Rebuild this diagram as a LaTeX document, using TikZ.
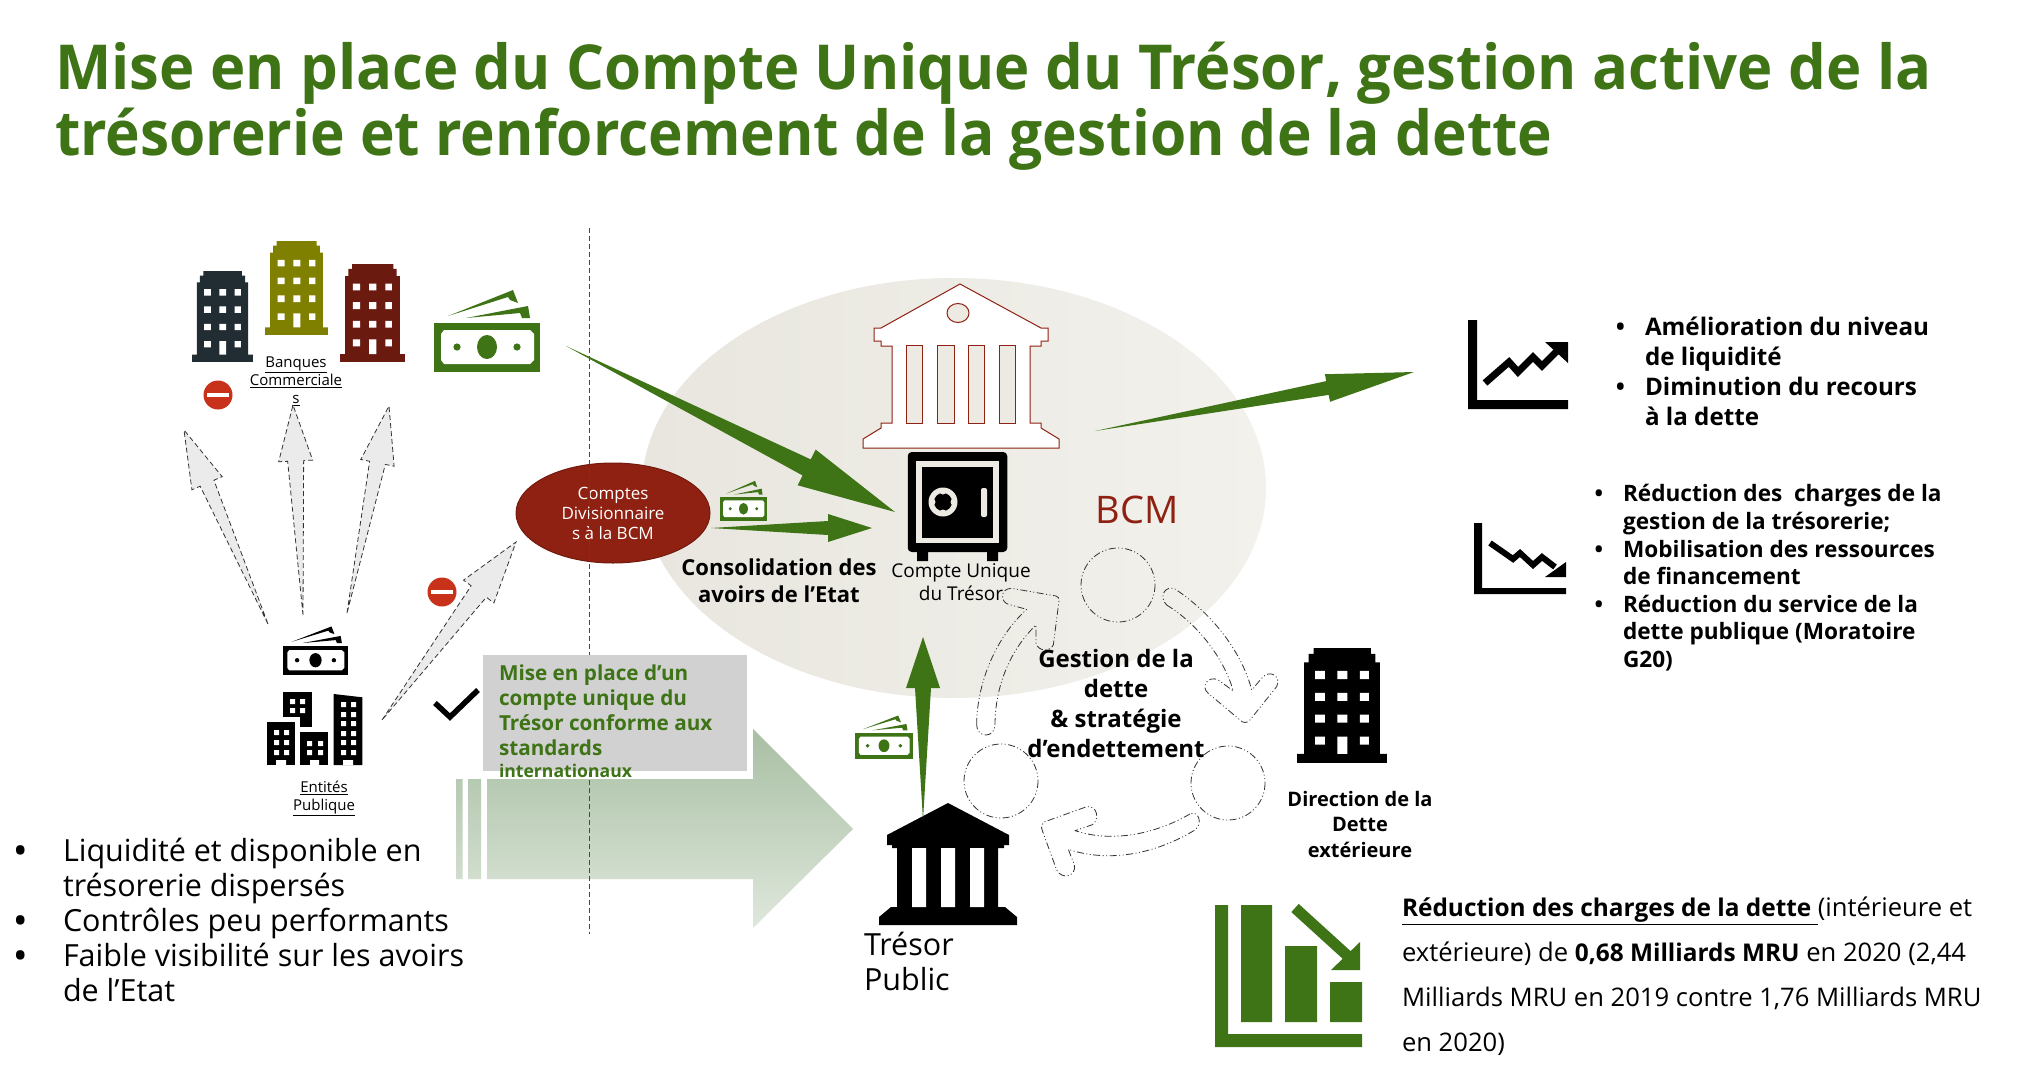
\documentclass[tikz,border=0pt]{standalone}
\usepackage{fontspec}
\setmainfont{Open Sans}
\newfontfamily\ttl[FakeStretch=0.945]{Open Sans}
\newfontfamily\ttlw[FakeStretch=0.964]{Open Sans}
\usetikzlibrary{calc,shapes.geometric}
\definecolor{grn}{HTML}{3E7316}
\definecolor{brick}{HTML}{8F2112}
\definecolor{bcmfill}{HTML}{ECEAE3}
\definecolor{bcml}{HTML}{E8E6DE}
\definecolor{bcmr}{HTML}{F2F1EC}
\definecolor{bigt}{HTML}{A8BFA3}
\definecolor{bigb}{HTML}{DFE7DC}
\definecolor{nored}{HTML}{C8321A}
\definecolor{darkb}{HTML}{222C33}
\definecolor{oliveb}{HTML}{808000}
\definecolor{redb}{HTML}{6B1A10}
\newcommand\fs[2]{\fontsize{#1}{#2}\selectfont}
\tikzset{
  grayarrow/.style={fill=black!8,draw=black!80,line width=.8pt,dash pattern=on 5pt off 3pt},
  greenarrow/.style={fill=grn,draw=none},
  cyc/.style={draw=black!80,line width=.8pt,dash pattern=on 7pt off 2.5pt on 1pt off 2.5pt on 1pt off 2.5pt,line join=round},
  lbl/.style={inner sep=0pt,outer sep=0pt,text=black},
}
\newcommand\bul[1]{\llap{\textbf{•}\hspace{#1pt}}}
% name, tail, head, headlen, halfhead, halfneck, style
\newcommand\taper[7]{%
  \coordinate (#1n) at ($(#3)!#4pt!(#2)$);
  \path[#7] (#2) -- ($(#1n)!#6pt!90:(#3)$) -- ($(#1n)!#5pt!90:(#3)$) -- (#3)
     -- ($(#1n)!#5pt!-90:(#3)$) -- ($(#1n)!#6pt!-90:(#3)$) -- cycle;}
\newcommand\bldg[5]{%
 \begin{scope}[shift={(#1,#2)},x=#3*0.01pt,y=-#4*0.01pt]
  \fill[#5] (0,100)--(0,92)--(8,92)--(8,12.5)--(13,12.5)--(13,5)--(18.6,5)--(18.6,0)--(82,0)--(82,5)--(87,5)--(87,12.5)--(92,12.5)--(92,92)--(100,92)--(100,100)--cycle;
  \fill[white] (20,20) rectangle (31,27) (45,20) rectangle (56,27) (70,20) rectangle (80,27)
   (20,39) rectangle (31,46) (45,39) rectangle (56,46) (70,39) rectangle (80,46)
   (20,58) rectangle (31,65) (45,58) rectangle (56,65) (70,58) rectangle (80,65)
   (20,77) rectangle (31,84) (45,77) rectangle (56,92) (70,77) rectangle (80,84);
 \end{scope}}
\newcommand\money[5]{%
 \begin{scope}[shift={(#1,#2)},x=#3/106*1pt,y=-#4/49*1pt]
  \fill[#5] (0,0) rectangle (106,49);
  \fill[white] (10,7)--(96,7)--(100,11)--(100,37)--(96,41)--(10,41)--(7,37)--(7,11)--cycle;
  \fill[#5] (53,24) ellipse [x radius=10,y radius=12];
  \fill[#5] (23,24) circle [x radius=3.6,y radius=3.6] (83,24) circle [x radius=3.6,y radius=3.6];
  \fill[#5] (14,-7)--(79,-33)--(84,-20)--(76,-23)--(74,-26)--cycle;
  \fill[#5] (32,-5)--(94,-17)--(96,-5)--(88,-5)--(86,-10)--cycle;
 \end{scope}}
\newcommand\noentry[1]{%
  \fill[nored] (#1) circle (14.5);
  \fill[white] ($(#1)+(-11,-1.8)$) rectangle ($(#1)+(11,1.8)$);}
\begin{document}
\begin{tikzpicture}[x=1pt,y=-1pt]
\useasboundingbox[fill=white] (0,0) rectangle (2028,1076);

% ---------- title
\node[lbl,anchor=base west,text=grn,font=\ttlw\fs{62}{66}\bfseries] (titleA) at (55,89) {Mise en place du Compte Unique du Trésor, gestion active de la};
\node[lbl,anchor=base west,text=grn,font=\ttl\fs{62}{66}\bfseries] (titleB) at (55,155) {trésorerie et renforcement de la gestion de la dette};

% ---------- BCM ellipse
\shade[left color=bcml,right color=bcmr] (954,488) ellipse [x radius=312,y radius=210];
\node[lbl,text=brick,font=\fs{38}{40}] (bcm) at (1137,510) {BCM};

% ---------- big arrow (left to right)
\shade[top color=bigt,bottom color=bigb]
  (456,779) rectangle (462.5,879) (468,779) rectangle (481,879)
  (487,779) -- (753,779) -- (753,729) -- (853,829) -- (753,928) -- (753,879) -- (487,879) -- cycle;

% ---------- vertical dashed divider
\coordinate (divtop) at (589,228);
\coordinate (divbot) at (589,934);

% ---------- banks
\bldg{192}{271}{61}{91}{darkb}
\bldg{265}{241}{63}{94}{oliveb}
\bldg{340}{264}{65}{98}{redb}
\money{434}{323}{106}{49}{grn}
\node[lbl,align=center,font=\fs{15}{18}] (banques) at (296,381) {\underline{Banques}\\\underline{Commerciale}\\\underline{s}};
\noentry{218,395}
\noentry{442,592}

% ---------- entites
\money{283}{646}{65}{29}{black}
 \fill (283.3,691.7) rectangle (311.7,727.3);
 \fill[white] (283.3,717.3) rectangle (300,727.3);
 \fill (266.7,722.3) rectangle (295,765);
 \fill (300,732.3) rectangle (328.3,765);
 \fill (333.7,694) -- (362.3,697.3) -- (362.3,765) -- (333.7,765) -- cycle;
 \fill[white]
  (274,730) rectangle (279,735) (284,730) rectangle (289,735)
  (274,740) rectangle (279,745) (284,740) rectangle (289,745)
  (274,750) rectangle (279,755) (284,750) rectangle (289,755)
  (276,760) rectangle (286,765)
  (307,741) rectangle (312,746) (318,741) rectangle (323,746)
  (307,750) rectangle (312,755) (318,750) rectangle (323,755)
  (310,760) rectangle (319,765)
  (290,699) rectangle (295,704) (300,699) rectangle (305,704)
  (290,708) rectangle (295,713) (300,708) rectangle (305,713)
  (341,702) rectangle (346,707) (351,702) rectangle (356,707)
  (341,712) rectangle (346,717) (351,712) rectangle (356,717)
  (341,721) rectangle (346,726) (351,721) rectangle (356,726)
  (341,731) rectangle (346,736) (351,731) rectangle (356,736)
  (341,740) rectangle (346,745) (351,740) rectangle (356,745)
  (341,750) rectangle (346,755) (351,750) rectangle (356,755)
  (343,760) rectangle (353,765);
\node[lbl,align=center,font=\fs{15}{18}] (entites) at (324,798.5) {\underline{Entités}\\\underline{Publique}};

% ---------- gray dashed arrows
\coordinate (ga1t) at (268,624); \coordinate (ga1h) at (184,430);
\coordinate (ga2t) at (303,615); \coordinate (ga2h) at (293,405);
\coordinate (ga3t) at (347,613); \coordinate (ga3h) at (389,406);
\coordinate (ga4t) at (382,720); \coordinate (ga4h) at (516,542);
\taper{ga1}{ga1t}{ga1h}{58}{16.5}{7.5}{grayarrow}
\taper{ga2}{ga2t}{ga2h}{56}{17}{8}{grayarrow}
\taper{ga3}{ga3t}{ga3h}{58}{17}{8}{grayarrow}
\taper{ga4}{ga4t}{ga4h}{62}{19}{9.5}{grayarrow}

% ---------- oval
\node[ellipse,fill=brick,draw=brick!80!black,line width=1pt,minimum width=194pt,minimum height=100pt,inner sep=0pt,text=white,align=center,font=\fs{17}{20}] (oval) at (613,513) {Comptes\\Divisionnaire\\s à la BCM};
\draw[grn!80!black,line width=.7pt,dash pattern=on 5pt off 3pt] (divtop) -- (divbot);

% ---------- check and grey box
\coordinate (ck1) at (435,703); \coordinate (ck2) at (450,717); \coordinate (ck3) at (478,690);
\draw[line width=5.5pt,miter limit=3] (ck1) -- (ck2) -- (ck3);
\fill[black!18] (483,655) rectangle (747,771);
\node[lbl,anchor=base west,text=grn,font=\fs{20.7}{25}\bfseries] (miseA) at (499,680) {Mise en place d’un};
\node[lbl,anchor=base west,text=grn,font=\fs{20.7}{25}\bfseries] (miseB) at (499,705) {compte unique du};
\node[lbl,anchor=base west,text=grn,font=\fs{20.7}{25}\bfseries] (miseC) at (499,730) {Trésor conforme aux};
\node[lbl,anchor=base west,text=grn,font=\fs{20.7}{25}\bfseries] (miseD) at (499,755) {standards};
\node[lbl,anchor=base west,text=grn,font=\fs{17.6}{20}\bfseries] (miseE) at (499,777) {internationaux};

% ---------- temple BCM
\draw[brick,line width=1pt,fill=white] (960,284)--(1041,328)--(1048,328)--(1048,341)--(1041,341)--(1041,346)--(1030,346)--(1030,423)--(1041,423)--(1041,428)--(1059,439)--(1059,448)--(863,448)--(863,439)--(881,428)--(881,423)--(892,423)--(892,346)--(881,346)--(881,341)--(874,341)--(874,328)--(881,328)--cycle;
\draw[brick,line width=1pt,fill=bcmfill] (906,345) rectangle (922,423) (937,345) rectangle (954,423) (968,345) rectangle (984,423) (999,345) rectangle (1015,423);
\draw[brick,line width=1pt,fill=bcmfill] (958,313) ellipse [x radius=11,y radius=9.5];

% ---------- safe
\fill (917,552) rectangle (928,561) (987,552) rectangle (998,561);
\node[fill=black,rounded corners=4pt,minimum width=99.5pt,minimum height=100pt,inner sep=0pt] (safe) at (957.5,502) {};
\fill[bcmfill] (916,461) rectangle (999,543);
\fill[black] (922,467) rectangle (993,538);
\fill[bcmfill] (943,502) circle (14.5);
\fill[black] (943,502) circle (9);
\fill[bcmfill] (943,491.5) circle (3) (943,512.5) circle (3) (932.5,502) circle (3) (953.5,502) circle (3);
\fill[bcmfill,rounded corners=2pt] (981,488) rectangle (987,517);
\node[lbl,align=center,font=\fs{22}{27}\bfseries] (cons) at (779,581) {Consolidation des\\avoirs de l’Etat};
\node[lbl,align=center,font=\fs{19}{23}] (cut) at (961,582) {Compte Unique\\du Trésor};

% ---------- money beside arrows
\money{720}{497}{47}{24}{grn}
\money{855}{733}{58}{26}{grn}

% ---------- green tapered arrows
\coordinate (g1t) at (566,346); \coordinate (g1h) at (895,512);
\coordinate (g2t) at (711,528); \coordinate (g2h) at (872,528);
\coordinate (g3t) at (923,820); \coordinate (g3h) at (923,637);
\coordinate (g4t) at (1095,431); \coordinate (g4h) at (1414,372);

% ---------- tresor temple
\fill (948,803)--(1009,835)--(1009,845)--(1004,845)--(1004,848)--(998,848)--(998,907)--(1005,907)--(1017,917)--(1017,925)--(879,925)--(879,917)--(891,907)--(897,907)--(897,848)--(892,848)--(892,845)--(887,845)--(887,835)--cycle;
\fill[white] (912,848) rectangle (926,907) (941,848) rectangle (955,907) (970,848) rectangle (984,907);
\node[lbl,align=left,anchor=west,font=\fs{30.5}{35}] (tresor) at (864,961) {Trésor\\Public};

\taper{g1}{g1t}{g1h}{99}{20}{9}{greenarrow}
\taper{g2}{g2t}{g2h}{44}{14}{7}{greenarrow}
\taper{g3}{g3t}{g3h}{51}{17}{8}{greenarrow}
\taper{g4}{g4t}{g4h}{88}{14}{7}{greenarrow}

% ---------- cycle
\draw[cyc] (1118,585) circle (37);
\draw[cyc] (1001,781) circle (37);
\draw[cyc] (1228,783) circle (37);
\begin{scope}[shift={(950,560)},x=0.3333pt,y=-0.3333pt]
 \draw[cyc] (80,495) .. controls (80,380) and (130,240) .. (230,148) -- (175,133) .. controls (150,125) and (150,85) .. (185,85) -- (318,108) .. controls (325,110) and (328,115) .. (327,122) -- (310,255) .. controls (300,275) and (265,275) .. (258,250) -- (258,195) .. controls (180,270) and (135,380) .. (135,495) .. controls (135,535) and (80,535) .. (80,495) -- cycle;
 \draw[cyc] (650,135) .. controls (740,190) and (820,290) .. (850,393) -- (805,360) .. controls (775,345) and (750,380) .. (775,400) -- (870,480) .. controls (880,490) and (890,490) .. (900,480) -- (980,380) .. controls (995,350) and (960,325) .. (935,355) -- (905,390) .. controls (880,290) and (800,170) .. (675,87) .. controls (645,75) and (625,110) .. (650,135) -- cycle;
 \draw[cyc] (720,762) .. controls (620,820) and (490,850) .. (375,812) -- (425,795) .. controls (450,785) and (445,730) .. (405,742) -- (285,785) .. controls (275,790) and (272,800) .. (277,812) -- (320,930) .. controls (335,960) and (380,950) .. (373,915) -- (355,868) .. controls (480,910) and (620,880) .. (735,810) .. controls (760,790) and (745,750) .. (720,762) -- cycle;
\end{scope}
\node[lbl,align=center,font=\fs{24}{30}\bfseries] (gestion) at (1116,703) {Gestion de la\\dette\\\& stratégie\\d’endettement};

% ---------- direction
\bldg{1297}{648}{90}{115}{black}
\node[lbl,align=center,font=\fs{20}{25.5}\bfseries] (direction) at (1360,824) {Direction de la\\Dette\\extérieure};

% ---------- chart up
\fill (1468,320) rectangle (1477,400) (1468,400) rectangle (1568,409);
\draw[line width=7pt,miter limit=2] (1485,383)--(1509,362)--(1518,372)--(1533,357)--(1542,366)--(1558,350);
\fill (1545,342)--(1568,342)--(1568,363)--cycle;
% ---------- chart down
\fill (1474,523) rectangle (1482,588) (1474,588) rectangle (1566,594);
\draw[line width=6pt,miter limit=2] (1490,543)--(1513,559)--(1520,553)--(1533,565)--(1542,557)--(1555,567);
\fill (1566,562)--(1566,577)--(1545,577)--cycle;
% ---------- bar chart
\fill[grn] (1215,905) rectangle (1228,1034) (1215,1034) rectangle (1362,1047);
\fill[grn] (1241,905) rectangle (1272,1022) (1285,946) rectangle (1317,1022) (1330,982) rectangle (1362,1022);
\draw[grn,line width=11pt] (1295,908)--(1350,958);
\fill[grn] (1360,942)--(1360,970)--(1331,970)--cycle;

% ---------- right texts
\node[lbl,anchor=north west,align=left,font=\fs{24.2}{30}\bfseries] (ameli) at (1645,317) {\bul{20}Amélioration du niveau\\de liquidité\\\bul{20}Diminution du recours\\à la dette};
\node[lbl,anchor=north west,align=left,font=\fs{22.6}{27.6}\bfseries] (reduc) at (1623,484.5) {\bul{20}Réduction des\ \ charges de la\\gestion de la trésorerie;\\\bul{20}Mobilisation des ressources\\de financement\\\bul{20}Réduction du service de la\\dette publique (Moratoire\\G20)};
\node[lbl,anchor=north west,align=left,font=\fs{30.5}{35}] (liq) at (63,838) {\bul{37}Liquidité et disponible en\\trésorerie dispersés\\\bul{37}Contrôles peu performants\\\bul{37}Faible visibilité sur les avoirs\\de l’Etat};
\node[lbl,anchor=north west,align=left,font=\fs{25.6}{45}] (redch) at (1402,897) {\underline{\fs{24.4}{45}\bfseries Réduction des charges de la dette }(intérieure et\\extérieure) de \textbf{\fs{24.4}{45}0,68 Milliards MRU} en 2020 (2,44\\Milliards MRU en 2019 contre 1,76 Milliards MRU\\en 2020)};
\end{tikzpicture}
\end{document}
